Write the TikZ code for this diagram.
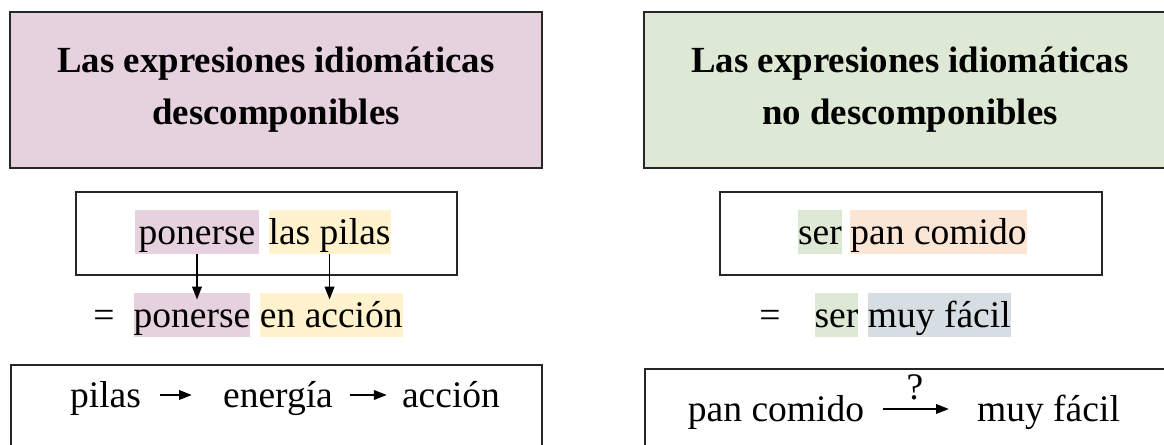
\documentclass[tikz,border=0pt]{standalone}
\usepackage{fontspec}
\setmainfont{Liberation Serif}
\usetikzlibrary{positioning,arrows.meta}
\definecolor{pinkfill}{HTML}{E6D1DE}
\definecolor{greenfill}{HTML}{DDE9D5}
\definecolor{yellowfill}{HTML}{FFF2CC}
\definecolor{orangefill}{HTML}{FBE5D5}
\definecolor{bluefill}{HTML}{D6DEE3}

\begin{document}
\begin{tikzpicture}[
  frame/.style={draw=black!85, line width=0.05cm},
  titlebox/.style={frame, minimum width=13.3cm, minimum height=3.9cm, align=center, font=\fontsize{26.2}{37}\selectfont\bfseries},
  word/.style={inner sep=0, text height=0.875cm, text depth=0.225cm, font=\fontsize{26.7}{32}\selectfont},
  arr/.style={-{Triangle[length=0.32cm,width=0.24cm]}, line width=0.04cm}]
\useasboundingbox (0,0) rectangle (29.1,11.125);
% titles
\node[titlebox, fill=pinkfill] (titleL) at (6.9,8.875) {Las expresiones idiomáticas\\descomponibles};
\node[titlebox, fill=greenfill] (titleR) at (22.75,8.875) {Las expresiones idiomáticas\\no descomponibles};
% frames
\draw[frame] (1.9,6.325) rectangle (11.425,4.25);
\draw[frame] (18.0,6.325) rectangle (27.55,4.25);
\draw[frame] (0.275,2.0) rectangle (13.55,-0.5);
\draw[frame] (16.125,1.9) rectangle (29.5,-0.5);
% left expression
\node[word, fill=pinkfill, minimum width=3.1cm] (ponA) at (4.925,5.325) {ponerse};
\node[word, fill=yellowfill, right=0.225cm of ponA] (pilasA) {las pilas};
\node[word] (eqL) at (2.6,3.25) {=};
\node[word, fill=pinkfill] (ponB) at (4.8,3.25) {ponerse};
\node[word, fill=yellowfill, right=0.225cm of ponB] (enB) {en acción};
\draw[arr, shorten >=-0.17cm] (ponA.south) -- (ponA.south |- ponB.north);
\draw[arr, shorten >=-0.17cm] (pilasA.south) -- (pilasA.south |- enB.north);
% right expression
\node[word, fill=greenfill] (serA) at (20.5,5.325) {ser};
\node[word, fill=orangefill, right=0.2cm of serA] (panA) {pan comido};
\node[word] (eqR) at (19.25,3.25) {=};
\node[word, fill=greenfill] (serB) at (20.9125,3.25) {ser};
\node[word, fill=bluefill, right=0.225cm of serB] (muyB) {muy fácil};
% chains
\node[word] (pilas) at (2.6375,1.25) {pilas};
\node[word] (energia) at (6.95,1.25) {energía};
\node[word] (accion) at (11.275,1.25) {acción};
\draw[arr, shorten <=0.475cm, shorten >=0.775cm] (pilas) -- (energia);
\draw[arr, shorten <=0.425cm, shorten >=0.375cm] (energia) -- (accion);
\node[word] (pan) at (19.4,0.9) {pan comido};
\node[word] (muy) at (26.2125,0.9) {muy fácil};
\draw[arr, shorten <=0.475cm, shorten >=0.7cm] (pan) -- node[word, above, pos=0.45] (q) {?} (muy);
\end{tikzpicture}
\end{document}
